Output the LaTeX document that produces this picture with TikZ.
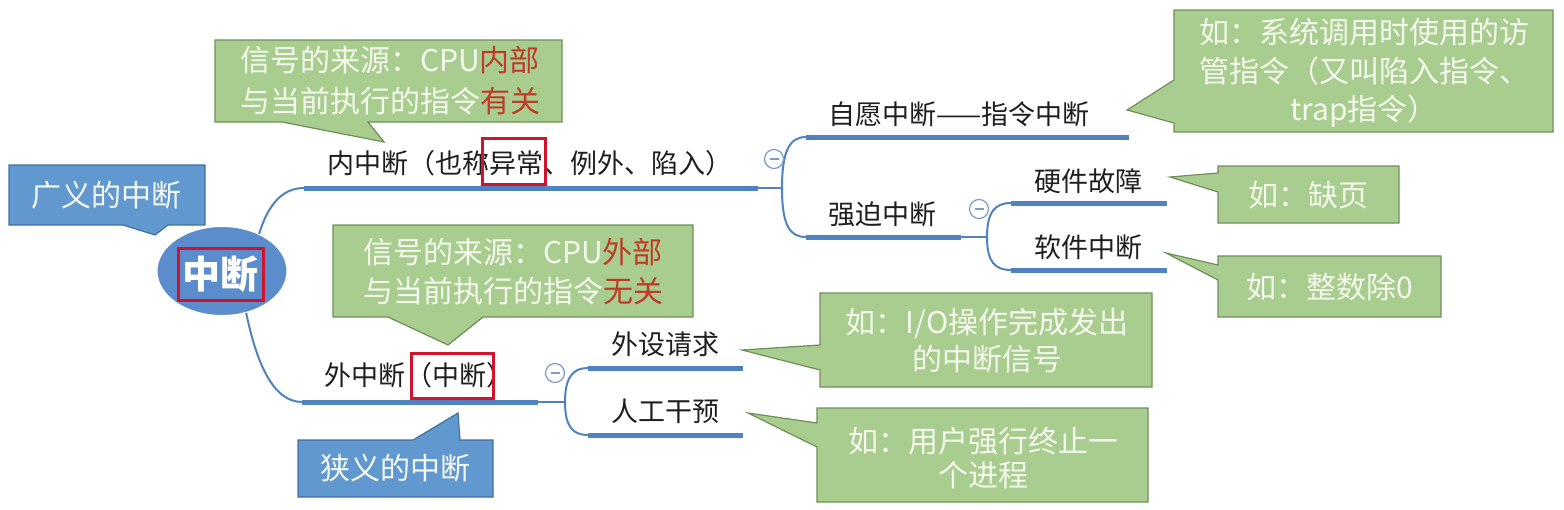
\documentclass[tikz,border=0pt]{standalone}
\usepackage{fontspec}
\setmainfont{Noto Sans CJK SC}
\usetikzlibrary{shapes.geometric}
\definecolor{cgreen}{HTML}{A9CD8E}
\definecolor{cgreenD}{HTML}{6F8F5A}
\definecolor{cblue}{HTML}{6198CF}
\definecolor{cblueD}{HTML}{41719C}
\definecolor{croot}{HTML}{5B8CCB}
\definecolor{cline}{HTML}{5182C0}
\definecolor{cred}{HTML}{D0142E}
\definecolor{cred2}{HTML}{C0392B}
\definecolor{cnote}{HTML}{F4F8EF}
\definecolor{cfold}{HTML}{7C9CC6}
\begin{document}
\begin{tikzpicture}[x=1pt,y=-1pt,
  greenbox/.style={fill=cgreen, draw=cgreenD, line width=1.2pt, line join=miter},
  bluebox/.style={fill=cblue, draw=cblueD, line width=1.2pt, line join=miter},
  redbox/.style={draw=cred, line width=3pt},
  branch/.style={draw=cline, line width=5pt},
  link/.style={draw=cline, line width=2pt},
  lbl/.style={inner sep=0pt, anchor=west, text=black!88, font=\fontsize{27}{32}\selectfont},
  note/.style={inner sep=0pt, align=center, text=cnote},
  fold/.style={circle, draw=cfold, fill=white, line width=1.2pt, minimum size=19pt, inner sep=0pt},
  foldbar/.style={draw=cfold, line width=1.4pt}
]
\useasboundingbox (0,0) rectangle (1564,509);
\fill[white] (0,0) rectangle (1564,509);

% ---------- callout shapes ----------
\path[greenbox] (215,40) -- (562,40) -- (562,122) -- (368,122) -- (384,142) -- (282,122) -- (215,122) -- cycle;
\path[greenbox] (333,225) -- (693,225) -- (693,317) -- (483,317) -- (448,345) -- (388,317) -- (333,317) -- cycle;
\path[greenbox] (1174,10) -- (1553,10) -- (1553,132) -- (1174,132) -- (1174,123) -- (1127,110) -- (1174,80) -- cycle;
\path[greenbox] (1218,166) -- (1399,166) -- (1399,223) -- (1218,223) -- (1218,192) -- (1170,177) -- (1218,173) -- cycle;
\path[greenbox] (1218,256) -- (1441,256) -- (1441,317) -- (1218,317) -- (1218,280) -- (1166,253) -- (1218,265) -- cycle;
\path[greenbox] (820,293) -- (1152,293) -- (1152,387) -- (820,387) -- (820,370) -- (742,350) -- (820,345) -- cycle;
\path[greenbox] (817,408) -- (1148,408) -- (1148,502) -- (817,502) -- (817,447) -- (748,413) -- (817,423) -- cycle;
\path[bluebox] (9,165) -- (205,165) -- (205,225) -- (168,225) -- (155,235) -- (123,225) -- (9,225) -- cycle;
\path[bluebox] (298,440) -- (413,440) -- (458,413) -- (460,440) -- (493,440) -- (493,497) -- (298,497) -- cycle;

% ---------- callout texts ----------
\node[note, font=\fontsize{30}{41}\selectfont] (n1) at (390,81) {信号的来源：CPU\textcolor{cred2}{内部}\\与当前执行的指令\textcolor{cred2}{有关}};
\node[note, font=\fontsize{30}{39}\selectfont] (n2) at (513,272) {信号的来源：CPU\textcolor{cred2}{外部}\\与当前执行的指令\textcolor{cred2}{无关}};
\node[note, font=\fontsize{30}{38.5}\selectfont] (n3) at (1364,73) {如：系统调用时使用的访\\管指令（又叫陷入指令、\\trap指令）};
\node[note, font=\fontsize{30}{36}\selectfont] (n4) at (1308,195) {如：缺页};
\node[note, font=\fontsize{30}{36}\selectfont] (n5) at (1330,287) {如：整数除0};
\node[note, font=\fontsize{30}{37}\selectfont] (n6) at (987,341) {如：I/O操作完成发出\\的中断信号};
\node[note, font=\fontsize{30}{34}\selectfont] (n7) at (983,458) {如：用户强行终止一\\个进程};
\node[note, font=\fontsize{30}{36}\selectfont] (b1) at (106,195) {广义的中断};
\node[note, font=\fontsize{30}{36}\selectfont] (b2) at (395,468) {狭义的中断};

% ---------- root ----------
\coordinate (inS) at (304,188);
\coordinate (inE) at (758,188);
\coordinate (inF) at (782,188);
\coordinate (outS) at (302,402);
\coordinate (outE) at (538,402);
\coordinate (outF) at (565,402);
\node[ellipse, fill=croot, draw=white, line width=1pt, minimum width=130pt, minimum height=89pt, inner sep=0pt] (root) at (222,271) {};
\draw[link] (root.45) .. controls (268,205) and (282,188) .. (inS);
\draw[link] (root.-60) .. controls (256,360) and (272,402) .. (outS);
\node[inner sep=0pt, text=white, font=\bfseries\fontsize{38}{40}\selectfont] (rootT) at (220,274) {中断};

% ---------- internal interrupt ----------
\draw[branch] (inS) -- (inE);
\draw[link] (inE) -- (inF);
\node[lbl] (inT) at (327,163) {内中断（也称异常、例外、陷入）};
\coordinate (volS) at (806,137);
\coordinate (volE) at (1129,137);
\coordinate (forS) at (806,237);
\coordinate (forE) at (961,237);
\coordinate (forF) at (987,237);
\draw[link] (inF) .. controls (782,150) and (790,137) .. (volS);
\draw[link] (inF) .. controls (782,226) and (790,237) .. (forS);
\draw[branch] (volS) -- (volE);
\draw[branch] (forS) -- (forE);
\draw[link] (forE) -- (forF);
\node[lbl] (volT) at (828,114) {自愿中断——指令中断};
\node[lbl] (forT) at (828,214) {强迫中断};
\coordinate (hwS) at (1011,203);
\coordinate (hwE) at (1167,203);
\coordinate (swS) at (1011,270);
\coordinate (swE) at (1167,270);
\draw[link] (forF) .. controls (987,212) and (995,203) .. (hwS);
\draw[link] (forF) .. controls (987,262) and (995,270) .. (swS);
\draw[branch] (hwS) -- (hwE);
\draw[branch] (swS) -- (swE);
\node[lbl] (hwT) at (1034,181) {硬件故障};
\node[lbl] (swT) at (1034,247) {软件中断};

% ---------- external interrupt ----------
\draw[branch] (outS) -- (outE);
\draw[link] (outE) -- (outF);
\node[lbl] (outT) at (324,375) {外中断（中断）};
\coordinate (devS) at (588,368);
\coordinate (devE) at (743,368);
\coordinate (manS) at (588,435);
\coordinate (manE) at (743,435);
\draw[link] (outF) .. controls (565,377) and (573,368) .. (devS);
\draw[link] (outF) .. controls (565,427) and (573,435) .. (manS);
\draw[branch] (devS) -- (devE);
\draw[branch] (manS) -- (manE);
\node[lbl] (devT) at (611,344) {外设请求};
\node[lbl] (manT) at (611,411) {人工干预};

% ---------- fold markers ----------
\node[fold] (f1) at (774,159) {};
\draw[foldbar] ([xshift=-4.5pt]f1.center) -- ([xshift=4.5pt]f1.center);
\node[fold] (f2) at (979,209) {};
\draw[foldbar] ([xshift=-4.5pt]f2.center) -- ([xshift=4.5pt]f2.center);
\node[fold] (f3) at (555,373) {};
\draw[foldbar] ([xshift=-4.5pt]f3.center) -- ([xshift=4.5pt]f3.center);

% ---------- red highlight boxes ----------
\draw[redbox] (482,138) rectangle (545,184);
\draw[redbox] (411,353) rectangle (493,398);
\draw[redbox] (178,248) rectangle (263,300);
\end{tikzpicture}
\end{document}
